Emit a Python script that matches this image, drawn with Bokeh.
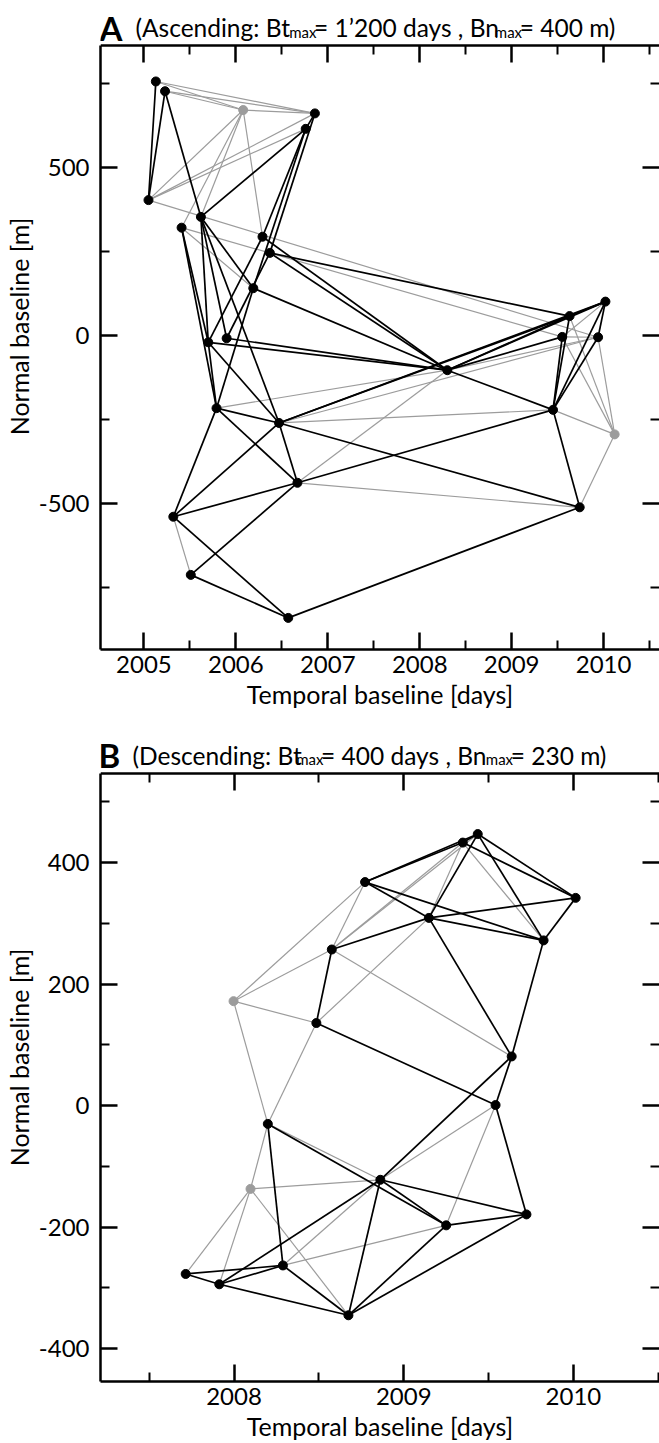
from bokeh.plotting import figure
from bokeh.models import Range1d, FixedTicker, LinearAxis, CustomJSTickFormatter, Label
from bokeh.layouts import column
from bokeh.embed import file_html
from bokeh.resources import INLINE

FONT = "Lato"

# ---------------- Panel A (ascending) ----------------
a_year = [2005.13, 2005.23, 2006.08, 2006.86, 2006.76, 2005.05, 2005.62, 2005.41,
          2006.29, 2006.37, 2006.19, 2005.70, 2005.90, 2005.79, 2006.47, 2010.02,
          2009.63, 2009.55, 2009.94, 2008.30, 2009.45, 2010.12, 2009.74, 2006.67,
          2005.32, 2005.51, 2006.57]
a_bn = [755, 726, 670, 660, 614, 402, 352, 320, 293, 245, 140, -21, -9, -217, -261,
        100, 57, -5, -6, -104, -222, -295, -512, -439, -540, -713, -841]
a_gray_nodes = [2, 21]
a_edges_black = [(0, 5), (1, 5), (1, 6), (3, 4), (4, 6), (4, 8), (3, 9), (4, 10), (6, 10),
                 (6, 11), (6, 12), (7, 11), (7, 13), (8, 11), (9, 12), (10, 13), (11, 13),
                 (11, 14), (6, 14), (13, 14), (8, 19), (9, 19), (10, 19), (11, 19), (12, 19),
                 (9, 16), (14, 15), (14, 16), (19, 15), (19, 16), (19, 17), (19, 20), (15, 16),
                 (15, 18), (15, 20), (16, 20), (17, 20), (18, 20), (20, 22), (13, 24), (13, 23),
                 (14, 24), (14, 23), (14, 22), (23, 20), (24, 23), (24, 26), (25, 23), (25, 26),
                 (26, 22)]
a_edges_gray = [(0, 2), (0, 3), (1, 2), (1, 3), (2, 3), (2, 5), (2, 6), (2, 7), (2, 8), (5, 3),
                (5, 4), (7, 10), (7, 17), (5, 18), (13, 19), (14, 20), (14, 18), (19, 18),
                (19, 23), (23, 22), (24, 25), (15, 17), (17, 18), (16, 21), (17, 21), (18, 21),
                (20, 21), (22, 21)]
a_xticks = [2005, 2006, 2007, 2008, 2009, 2010]
a_xminor = [2005.5, 2006.5, 2007.5, 2008.5, 2009.5, 2010.5]
a_yticks = [-500, 0, 500]
a_yminor = [-750, -250, 250, 750]

# ---------------- Panel B (descending) ----------------
b_year = [2009.436, 2009.348, 2008.772, 2010.013, 2009.148, 2009.824, 2008.576, 2007.997,
          2008.485, 2009.636, 2009.541, 2008.199, 2008.862, 2008.097, 2009.723, 2009.250,
          2008.288, 2007.715, 2007.913, 2008.674]
b_bn = [447, 433, 368, 342, 309, 272, 257, 172, 136, 81, 1, -30, -122, -137, -179, -197,
        -263, -277, -294, -345]
b_gray_nodes = [7, 13]
b_edges_black = [(0, 1), (2, 0), (2, 1), (0, 4), (0, 5), (0, 3), (1, 3), (2, 4), (2, 5), (4, 5),
                 (4, 3), (3, 5), (4, 6), (4, 9), (5, 9), (6, 8), (8, 10), (9, 10), (9, 12),
                 (10, 14), (11, 15), (12, 15), (11, 16), (12, 18), (12, 19), (12, 14), (15, 14),
                 (15, 19), (14, 19), (16, 17), (16, 18), (16, 19), (17, 18), (18, 19)]
b_edges_gray = [(1, 5), (1, 6), (0, 6), (1, 4), (2, 6), (2, 7), (6, 7), (6, 9), (7, 8), (7, 11),
                (8, 11), (8, 4), (11, 12), (11, 13), (10, 12), (10, 15), (13, 12), (13, 17),
                (13, 18), (13, 19), (12, 16), (15, 16)]
b_xticks = [2008, 2009, 2010]
b_xminor = [2007.5, 2008.5, 2009.5, 2010.5]
b_yticks = [-400, -200, 0, 200, 400]
b_yminor = [-300, -100, 100, 300, 500]

# title pieces: text, kind
a_title = [("A", "letter"), ("(Ascending: Bt", "main"), ("max", "sub"),
           ("= 1\u2019200 days , Bn", "main"), ("max", "sub"), ("= 400 m)", "main")]
b_title = [("B", "letter"), ("(Descending: Bt", "main"), ("max", "sub"),
           ("= 400 days , Bn", "main"), ("max", "sub"), ("= 230 m)", "main")]

FL, FR = 99, 659
W = 659
TOP = 3


def style_axis(a, labels):
    a.major_tick_in = 17
    a.major_tick_out = 0
    a.minor_tick_in = 9
    a.minor_tick_out = 0
    a.major_tick_line_width = 2.5
    a.minor_tick_line_width = 2
    a.major_tick_line_color = "black"
    a.minor_tick_line_color = "black"
    if labels:
        a.formatter = CustomJSTickFormatter(code="return tick.toString()")
        a.major_label_text_font = FONT
        a.major_label_text_font_size = "24px"
        a.major_label_text_color = "black"
        a.axis_label_text_font = FONT
        a.axis_label_text_font_size = "25px"
        a.axis_label_text_font_style = "normal"
        a.axis_label_text_color = "black"
    else:
        a.formatter = CustomJSTickFormatter(code="return ''")
        a.major_label_text_font_size = "1px"
        a.major_label_standoff = 0


def make_panel(xs, ys, gray_nodes, eb, eg, xr, ybox, box_top_px, xt, xm, yt, ym,
               height, bbot, pieces, xpos, base_px):
    box_h = height - bbot - box_top_px
    upp = (ybox[1] - ybox[0]) / box_h
    ytop = ybox[1] + (box_top_px - TOP) * upp
    p = figure(width=W, height=height, x_range=Range1d(*xr), y_range=Range1d(ybox[0], ytop),
               output_backend="svg", toolbar_location=None,
               x_axis_location=None, y_axis_location=None,
               min_border_left=FL, min_border_right=0, min_border_top=TOP,
               min_border_bottom=bbot)
    p.outline_line_color = None
    p.grid.visible = False

    bottom = LinearAxis(ticker=FixedTicker(ticks=xt, minor_ticks=xm),
                        axis_label="Temporal baseline [days]")
    style_axis(bottom, True)
    bottom.axis_line_width = 2.5
    bottom.major_label_standoff = 6
    bottom.axis_label_standoff = 3
    p.add_layout(bottom, "below")

    left = LinearAxis(ticker=FixedTicker(ticks=yt, minor_ticks=ym),
                      axis_label="Normal baseline [m]", bounds=ybox)
    style_axis(left, True)
    left.axis_line_width = 2.5
    left.major_label_standoff = 11
    left.axis_label_standoff = 2
    p.add_layout(left, "left")

    top = LinearAxis(ticker=FixedTicker(ticks=xt, minor_ticks=xm), fixed_location=ybox[1])
    style_axis(top, False)
    top.axis_line_width = 2.5
    p.add_layout(top, "above")

    right = LinearAxis(ticker=FixedTicker(ticks=yt, minor_ticks=ym), bounds=ybox)
    style_axis(right, False)
    right.axis_line_color = None
    p.add_layout(right, "right")

    def seg(edges, color, width):
        p.segment(x0=[xs[i] for i, j in edges], y0=[ys[i] for i, j in edges],
                  x1=[xs[j] for i, j in edges], y1=[ys[j] for i, j in edges],
                  line_color=color, line_width=width)

    seg(eg, "#9c9c9c", 1.2)
    seg(eb, "black", 1.7)
    colors = ["#9c9c9c" if i in gray_nodes else "black" for i in range(len(xs))]
    p.scatter(x=xs, y=ys, size=9, color=colors)

    xupp = (xr[1] - xr[0]) / (FR - FL)
    for (text, kind), px in zip(pieces, xpos):
        if kind == "letter":
            size, style, dy = "33px", "bold", 0
        elif kind == "sub":
            size, style, dy = "15px", "normal", 4
        else:
            size, style, dy = "24.5px", "normal", 0
        p.add_layout(Label(x=xr[0] + (px - FL) * xupp,
                           y=ytop - (base_px + dy - TOP) * upp,
                           text=text, text_font=FONT, text_font_size=size,
                           text_font_style=style, text_baseline="alphabetic",
                           text_align="left", text_color="black"))
    return p


pA = make_panel(a_year, a_bn, a_gray_nodes, a_edges_black, a_edges_gray,
                (2004.528, 2010.608), (-935, 862), 45, a_xticks, a_xminor, a_yticks, a_yminor,
                730, 81, a_title, [98, 134, 288, 313, 494, 519], 27)
pB = make_panel(b_year, b_bn, b_gray_nodes, b_edges_black, b_edges_gray,
                (2007.213, 2010.507), (-454, 547), 43, b_xticks, b_xminor, b_yticks, b_yminor,
                713, 59, b_title, [97, 131, 295, 320, 485, 510], 25)

layout = column(pA, pB, spacing=0)
open("out.html", "w").write(file_html(layout, INLINE))
